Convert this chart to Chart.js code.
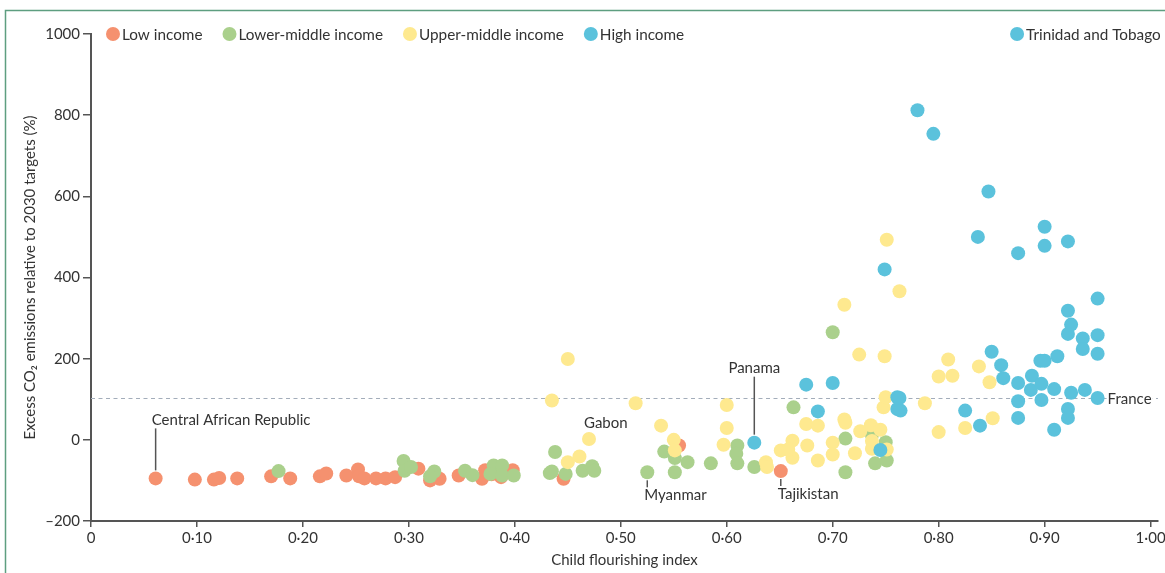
<!DOCTYPE html>
<html>
<head>
<meta charset="utf-8">
<script src="https://cdn.jsdelivr.net/npm/chart.js@4"></script>
<style>
  html, body { margin: 0; padding: 0; background: #fff; }
  #wrap { width: 1165px; height: 573px; position: relative; }
</style>
</head>
<body>
<div id="wrap"><canvas id="chart"></canvas></div>
<script>
// income groups
const groupNames = ["Low income", "Lower-middle income", "Upper-middle income", "High income"];
const groupColors = ["#f5916f", "#aad08c", "#fee98f", "#5bc2dc"];

// [child flourishing index, excess CO2 emissions (%)]
const lowIncome = [
  [0.061, -95], [0.098, -98], [0.116, -98], [0.121, -94], [0.138, -95], [0.170, -90],
  [0.188, -95], [0.216, -90], [0.222, -83], [0.241, -88], [0.252, -73], [0.253, -90],
  [0.258, -95], [0.269, -95], [0.278, -95], [0.287, -92], [0.309, -71], [0.320, -100],
  [0.329, -96], [0.347, -88], [0.369, -96], [0.372, -75], [0.378, -85], [0.387, -92],
  [0.398, -75], [0.446, -96], [0.555, -14], [0.651, -77]
];
const lowerMiddle = [
  [0.177, -77], [0.295, -52], [0.296, -76], [0.302, -67], [0.324, -78], [0.320, -90],
  [0.353, -76], [0.360, -87], [0.380, -63], [0.388, -63], [0.377, -84], [0.388, -88],
  [0.399, -88], [0.435, -78], [0.433, -82], [0.438, -30], [0.448, -84], [0.464, -76],
  [0.473, -65], [0.475, -76], [0.525, -80], [0.541, -29], [0.551, -45], [0.563, -55],
  [0.551, -80], [0.585, -58], [0.610, -14], [0.609, -34], [0.610, -58], [0.626, -67],
  [0.663, 80], [0.700, 265], [0.712, 3], [0.712, -80], [0.737, 12], [0.750, -6],
  [0.740, -58], [0.751, -51]
];
const upperMiddle = [
  [0.435, 97], [0.450, 199], [0.470, 2], [0.461, -41], [0.450, -55], [0.514, 90],
  [0.538, 35], [0.550, 0], [0.551, -26], [0.597, -12], [0.600, 29], [0.600, 86],
  [0.637, -55], [0.638, -67], [0.651, -26], [0.662, -2], [0.662, -44], [0.658, -24],
  [0.675, 39], [0.686, 35], [0.676, -14], [0.686, -51], [0.700, -7], [0.700, -36],
  [0.711, 50], [0.712, 42], [0.721, -33], [0.726, 21], [0.736, 36], [0.745, 25],
  [0.737, -3], [0.737, -22], [0.751, -24], [0.748, 80], [0.750, 105], [0.751, 493],
  [0.763, 366], [0.711, 333], [0.725, 210], [0.749, 206], [0.809, 198], [0.800, 156],
  [0.813, 158], [0.838, 181], [0.848, 142], [0.787, 90], [0.800, 19], [0.825, 29],
  [0.851, 53]
];
const highIncome = [
  [0.626, -7], [0.675, 136], [0.700, 140], [0.686, 70], [0.745, -25], [0.761, 105],
  [0.761, 76], [0.764, 72], [0.780, 812], [0.795, 754], [0.749, 420], [0.847, 612],
  [0.837, 500], [0.875, 460], [0.900, 525], [0.900, 478], [0.922, 489], [0.950, 348],
  [0.922, 318], [0.925, 284], [0.922, 261], [0.936, 250], [0.936, 224], [0.950, 258],
  [0.950, 212], [0.850, 217], [0.859, 184], [0.861, 152], [0.875, 140], [0.888, 158],
  [0.887, 123], [0.897, 138], [0.896, 195], [0.900, 195], [0.912, 206], [0.909, 125],
  [0.925, 116], [0.938, 123], [0.950, 103], [0.875, 95], [0.897, 98], [0.922, 76],
  [0.922, 54], [0.875, 54], [0.909, 25], [0.839, 35], [0.825, 72], [0.763, 103],
  [0.874, 1000]
];
const allGroups = [lowIncome, lowerMiddle, upperMiddle, highIncome];

// tick labels
const xTickLabels = ["0", "0·10", "0·20", "0·30", "0·40", "0·50", "0·60", "0·70", "0·80", "0·90", "1·00"];
const yTickLabels = ["–200", "0", "200", "400", "600", "800", "1000"];

// reference line (France)
const franceLine = 102;

// named countries: group index + point index
const namedPoints = [
  { name: "Central African Republic", group: 0, index: 0, place: "above" },
  { name: "Gabon", group: 2, index: 2, place: "aboveNoLine" },
  { name: "Panama", group: 3, index: 0, place: "aboveCentre" },
  { name: "Myanmar", group: 1, index: 20, place: "below" },
  { name: "Tajikistan", group: 0, index: 27, place: "below" },
  { name: "France", group: 3, index: 38, place: "right" },
  { name: "Trinidad and Tobago", group: 3, index: 48, place: "rightPlain" }
];

const FONT = "Lato, 'Open Sans', sans-serif";
const TEXT = "#333";

const annotate = {
  id: "annotate",
  beforeDatasetsDraw(chart) {
    const { ctx, chartArea, scales } = chart;
    const yy = Math.round(scales.y.getPixelForValue(franceLine)) + 0.5;
    ctx.save();
    ctx.strokeStyle = "#a3adba";
    ctx.lineWidth = 1;
    ctx.setLineDash([4, 3.5]);
    ctx.beginPath();
    ctx.moveTo(chartArea.left, yy);
    ctx.lineTo(chartArea.right, yy);
    ctx.stroke();
    ctx.restore();
  },
  afterDatasetsDraw(chart) {
    const { ctx, chartArea, scales } = chart;
    ctx.save();
    ctx.textBaseline = "middle";

    // legend row
    ctx.font = "15.3px " + FONT;
    let lx = chartArea.left + 22;
    const ly = chartArea.top;
    groupNames.forEach((name, i) => {
      ctx.fillStyle = groupColors[i];
      ctx.beginPath();
      ctx.arc(lx, ly, 7, 0, Math.PI * 2);
      ctx.fill();
      ctx.fillStyle = TEXT;
      ctx.textAlign = "left";
      ctx.fillText(name, lx + 9, ly + 1);
      lx += 9 + ctx.measureText(name).width + 27;
    });

    // country labels
    ctx.font = "15px " + FONT;
    ctx.strokeStyle = "#555";
    ctx.lineWidth = 1.5;
    namedPoints.forEach((p) => {
      const pt = allGroups[p.group][p.index];
      const px = scales.x.getPixelForValue(pt[0]);
      const py = scales.y.getPixelForValue(pt[1]);
      ctx.fillStyle = TEXT;
      if (p.place === "above") {
        ctx.beginPath();
        ctx.moveTo(px, py - 50);
        ctx.lineTo(px, py - 8);
        ctx.stroke();
        ctx.textAlign = "left";
        ctx.fillText(p.name, px - 4, py - 58);
      } else if (p.place === "aboveNoLine") {
        ctx.textAlign = "left";
        ctx.fillText(p.name, px - 5, py - 16);
      } else if (p.place === "aboveCentre") {
        ctx.beginPath();
        ctx.moveTo(px, py - 66);
        ctx.lineTo(px, py - 8);
        ctx.stroke();
        ctx.textAlign = "center";
        ctx.fillText(p.name, px, py - 75);
      } else if (p.place === "below") {
        ctx.beginPath();
        ctx.moveTo(px, py + 8);
        ctx.lineTo(px, py + 15);
        ctx.stroke();
        ctx.textAlign = "left";
        ctx.fillText(p.name, px - 3, py + 23);
      } else if (p.place === "right") {
        const w = ctx.measureText(p.name).width;
        ctx.fillStyle = "#fff";
        ctx.fillRect(px + 9, py - 8, w + 2, 16);
        ctx.fillStyle = TEXT;
        ctx.textAlign = "left";
        ctx.fillText(p.name, px + 10, py + 1);
      } else {
        ctx.font = "15.3px " + FONT;
        ctx.textAlign = "left";
        ctx.fillText(p.name, px + 9, py + 1);
      }
    });

    // page frame
    ctx.strokeStyle = "#5e9e80";
    ctx.lineWidth = 1.5;
    ctx.beginPath();
    ctx.moveTo(5.5, chart.height);
    ctx.lineTo(5.5, 10.5);
    ctx.lineTo(chart.width, 10.5);
    ctx.stroke();
    ctx.restore();
  }
};

window.onload = () => {
  const ctx = document.getElementById("chart").getContext("2d");
  // higher order is drawn underneath
  const datasets = allGroups.map((pts, i) => ({
    label: groupNames[i],
    data: pts.map((p) => ({ x: p[0], y: p[1] })),
    backgroundColor: groupColors[i],
    borderWidth: 0,
    pointRadius: 7,
    pointHoverRadius: 7,
    clip: false,
    order: 3 - i
  }));

  new Chart(ctx, {
    type: "scatter",
    data: { datasets },
    plugins: [annotate],
    options: {
      responsive: true,
      maintainAspectRatio: false,
      animation: false,
      devicePixelRatio: 1,
      events: [],
      layout: { padding: { top: 34, right: 0, left: 0, bottom: 0 } },
      plugins: {
        legend: { display: false },
        tooltip: { enabled: false }
      },
      scales: {
        x: {
          type: "linear",
          min: 0,
          max: 1.007,
          afterFit: (s) => { s.height = 52; s.paddingLeft = 0; s.paddingRight = 0; },
          border: { color: "#555", width: 2 },
          grid: { drawOnChartArea: false, tickLength: 6, color: "#555", lineWidth: 1.5 },
          ticks: {
            stepSize: 0.1,
            includeBounds: false,
            padding: 2,
            color: TEXT,
            font: { family: FONT, size: 15 },
            callback: (v) => xTickLabels[Math.round(v * 10)]
          },
          title: {
            display: true,
            text: "Child flourishing index",
            color: TEXT,
            font: { family: FONT, size: 15 },
            padding: { top: 0, bottom: 4 }
          }
        },
        y: {
          min: -200,
          max: 1000,
          afterFit: (s) => { s.width = 91; s.paddingTop = 0; s.paddingBottom = 0; },
          border: { color: "#555", width: 2 },
          grid: { drawOnChartArea: false, tickLength: 8, color: "#555", lineWidth: 1.5 },
          ticks: {
            stepSize: 200,
            padding: 3,
            color: TEXT,
            font: { family: FONT, size: 15 },
            callback: (v) => yTickLabels[Math.round((v + 200) / 200)]
          },
          title: {
            display: true,
            text: "Excess CO₂ emissions relative to 2030 targets (%)",
            color: TEXT,
            font: { family: FONT, size: 15 },
            padding: { top: 21, bottom: 0 }
          }
        }
      }
    }
  });
};
</script>
</body>
</html>
